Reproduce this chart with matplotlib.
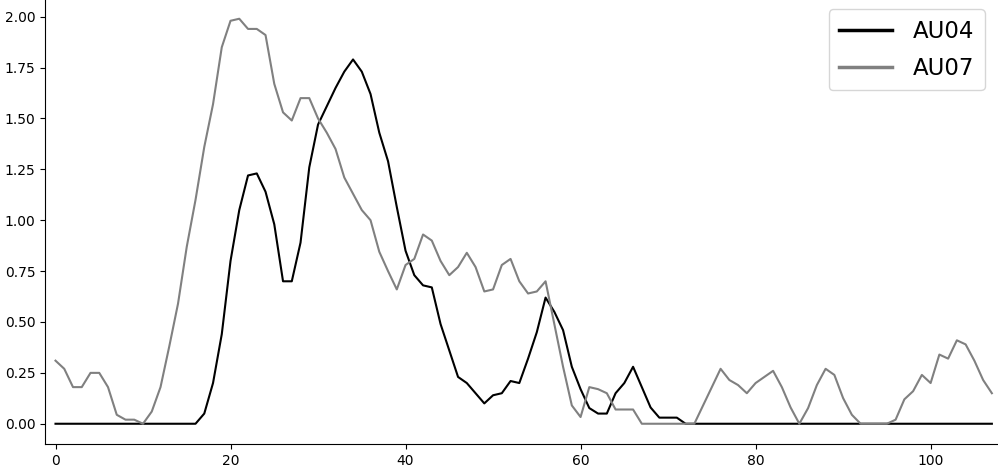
import matplotlib
matplotlib.use("Agg")
import matplotlib.pyplot as plt
import numpy as np

frames = list(range(108))

au04 = [0, 0, 0, 0, 0, 0, 0, 0, 0, 0,
        0, 0, 0, 0, 0, 0, 0, 0.05, 0.20, 0.44,
        0.80, 1.05, 1.22, 1.23, 1.14, 0.98, 0.70, 0.70, 0.89, 1.26,
        1.47, 1.56, 1.65, 1.73, 1.79, 1.73, 1.62, 1.43, 1.29, 1.065,
        0.85, 0.73, 0.68, 0.67, 0.49, 0.36, 0.23, 0.20, 0.15, 0.10,
        0.14, 0.15, 0.21, 0.20, 0.32, 0.45, 0.62, 0.55, 0.46, 0.28,
        0.17, 0.077, 0.05, 0.05, 0.15, 0.20, 0.28, 0.18, 0.08, 0.03,
        0.03, 0.03, 0, 0, 0, 0, 0, 0, 0, 0,
        0, 0, 0, 0, 0, 0, 0, 0, 0, 0,
        0, 0, 0, 0, 0, 0, 0, 0, 0, 0,
        0, 0, 0, 0, 0, 0, 0, 0]

au07 = [0.31, 0.27, 0.18, 0.18, 0.25, 0.25, 0.18, 0.044, 0.02, 0.02,
        0.0, 0.06, 0.18, 0.38, 0.59, 0.87, 1.10, 1.36, 1.57, 1.85,
        1.98, 1.99, 1.94, 1.94, 1.91, 1.67, 1.53, 1.49, 1.60, 1.60,
        1.50, 1.43, 1.35, 1.21, 1.13, 1.05, 1.00, 0.845, 0.75, 0.66,
        0.78, 0.81, 0.93, 0.90, 0.80, 0.73, 0.77, 0.84, 0.77, 0.65,
        0.66, 0.78, 0.81, 0.70, 0.64, 0.65, 0.70, 0.49, 0.28, 0.09,
        0.033, 0.18, 0.17, 0.15, 0.07, 0.07, 0.07, 0.0, 0.0, 0.0,
        0.0, 0.0, 0.0, 0.0, 0.09, 0.18, 0.27, 0.215, 0.19, 0.15,
        0.20, 0.23, 0.26, 0.18, 0.08, 0.0, 0.077, 0.19, 0.27, 0.24,
        0.126, 0.044, 0.0, 0.0, 0.0, 0.0, 0.02, 0.12, 0.16, 0.24,
        0.20, 0.34, 0.32, 0.41, 0.39, 0.31, 0.215, 0.15]

W, H = 998, 470
fig = plt.figure(figsize=(W / 100, H / 100), dpi=100)
ax = fig.add_axes([45 / W, 26 / H, 953 / W, 445.5 / H])

ax.plot(frames, au04, color="black", lw=1.5, label="AU04")
ax.plot(frames, au07, color="gray", lw=1.5, label="AU07")

ax.set_xlim(-1.2, 107.7)
ax.set_ylim(-0.0995, 2.0895)
ax.set_xticks([0, 20, 40, 60, 80, 100])
ax.set_yticks([0, 0.25, 0.5, 0.75, 1.0, 1.25, 1.5, 1.75, 2.0])
ax.set_yticklabels([f"{v:.2f}" for v in [0, 0.25, 0.5, 0.75, 1.0, 1.25, 1.5, 1.75, 2.0]])
ax.spines["top"].set_visible(False)
ax.spines["right"].set_visible(False)

leg = ax.legend(loc="upper right", bbox_to_anchor=(985 / W, 1 - 9.3 / H),
                bbox_transform=fig.transFigure, borderaxespad=0,
                fontsize=16.5, handlelength=2.3, handletextpad=0.9,
                borderpad=0.47, labelspacing=0.59)
for line in leg.get_lines():
    line.set_linewidth(2.5)

fig.savefig("out.png", dpi=100)
